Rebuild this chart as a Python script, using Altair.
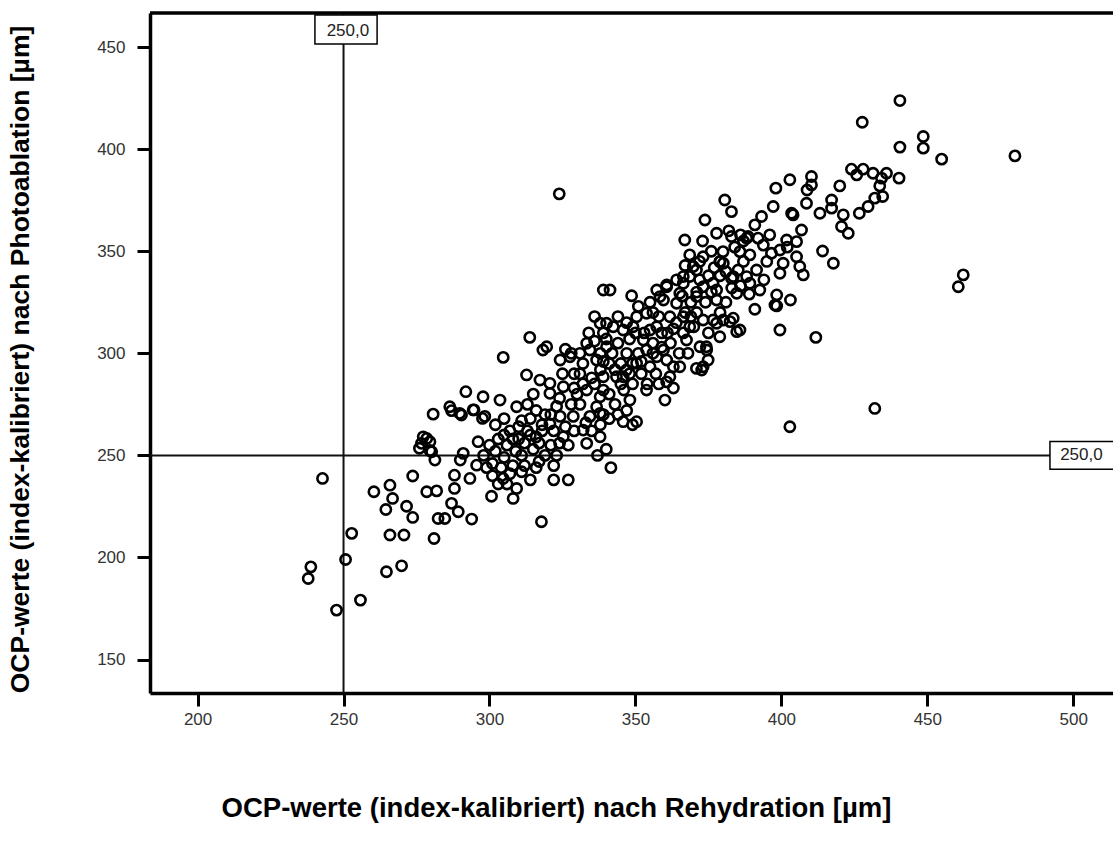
import altair as alt
import pandas as pd

# OCP values after rehydration (x) and after photoablation (y), grouped by x band
x_a = [237.9, 238.8, 242.8, 247.6, 250.7, 252.8, 255.8]
y_a = [189.7, 195.4, 238.7, 174.2, 199.0, 211.8, 179.1]

x_b = [260.4, 264.7, 265.9, 265.9, 266.8, 264.5, 269.9, 270.7, 271.6, 273.7, 273.7, 278.5, 276.7, 277.3, 279.6, 278.5, 279.6, 280.2, 276.0]
y_b = [232.2, 193.0, 211.0, 235.4, 228.9, 223.5, 195.9, 211.0, 225.1, 219.6, 239.9, 232.2, 255.9, 259.1, 256.7, 258.3, 252.4, 251.8, 253.5]

x_c = [281.0, 281.9, 282.4, 284.7, 287.0, 289.3, 288.0, 288.0, 290.0, 281.3, 280.7, 287.0, 286.4, 289.8]
y_c = [209.3, 232.6, 219.1, 219.1, 226.5, 222.4, 240.3, 233.8, 247.7, 247.7, 270.2, 271.9, 273.8, 270.6]

x_d = [291.0, 293.9, 293.3, 295.6, 296.1, 291.9, 297.8, 294.4, 298.4, 290.4, 294.7, 297.6, 298.0, 299.0]
y_d = [251.0, 218.8, 238.7, 245.2, 256.7, 281.2, 278.7, 272.3, 269.1, 269.8, 272.3, 268.1, 250.0, 244.0]

x_e = [300.7, 304.7, 308.1, 309.3, 303.6, 304.7, 309.3, 301, 302, 303, 305, 306, 307, 308, 302, 305, 307, 309, 301, 304, 306, 308, 310, 300, 303, 305]
y_e = [230.0, 238.7, 228.9, 233.8, 277.1, 298.0, 273.8, 246, 252, 258, 249, 255, 262, 245, 265, 268, 241, 252, 240, 244, 236, 258, 264, 255, 236, 260]

x_f = [313.8, 312.7, 317.3, 317.8, 318.3, 319.6, 311, 312, 313, 314, 315, 316, 317, 318, 319, 311, 313, 315, 317, 319, 312, 314, 316, 318, 311, 310, 314, 316]
y_f = [307.8, 289.4, 286.9, 217.5, 301.6, 303.2, 250, 256, 262, 268, 253, 259, 247, 265, 270, 242, 275, 280, 256, 250, 245, 260, 272, 262, 267, 258, 238, 244]

x_g = [320.7, 325.3, 324.2, 327.6, 320.7, 324.2, 328.7, 320.7, 325.3, 323.9, 322, 327, 321, 322, 323, 324, 326, 327, 328, 329, 321, 323, 325, 326, 328, 322, 329, 324, 329]
y_g = [285.3, 283.6, 296.7, 298.3, 280.4, 269.1, 269.1, 265.4, 259.1, 378.1, 238, 238, 255, 262, 274, 278, 264, 255, 275, 290, 270, 250, 290, 302, 300, 245, 262, 256, 283]

x_h = [333.3, 334.4, 336.7, 339.0, 333.3, 334.4, 336.7, 337.9, 337.9, 332.1, 333.3, 337.9, 339.0, 337.9, 339.0, 331, 332, 335, 336, 338, 331, 333, 335, 338, 339, 330, 334, 336, 338, 331, 337, 339, 332, 336, 339]
y_h = [304.9, 301.6, 296.7, 310.0, 282.0, 269.1, 273.8, 278.7, 270.6, 262.4, 255.9, 259.1, 331.0, 314.7, 288.5, 290, 295, 288, 285, 292, 275, 266, 262, 265, 282, 280, 310, 318, 300, 300, 250, 270, 285, 306, 296]

x_i = [340.1, 340.1, 341.3, 348.7, 342.4, 345.8, 349.2, 343.5, 345.8, 346.9, 348.1, 345.8, 341.6, 340, 341, 342, 344, 345, 347, 348, 349, 341, 343, 344, 346, 347, 349, 344, 340, 343, 345, 348, 341, 349, 347]
y_i = [303.2, 314.7, 331.0, 328.2, 313.0, 311.4, 313.0, 288.5, 288.5, 291.8, 277.1, 266.5, 244.0, 253, 295, 300, 305, 295, 300, 307, 285, 280, 275, 270, 282, 272, 295, 318, 307, 292, 285, 290, 268, 265, 315]

x_j = [350.4, 353.8, 355.0, 352.7, 357.3, 353.8, 350.4, 355.0, 357.3, 353.8, 350.4, 357.3, 359.6, 358.4, 351, 352, 354, 356, 358, 359, 351, 353, 355, 357, 359, 352, 356, 358, 350, 356]
y_j = [317.9, 319.6, 311.4, 306.5, 313.0, 301.6, 295.1, 293.4, 298.3, 282.0, 266.5, 331.0, 326.1, 327.8, 300, 290, 285, 305, 318, 303, 323, 310, 325, 290, 310, 296, 300, 285, 310, 320]

x_k = [360.1, 360.7, 359.6, 363.0, 365.2, 361.8, 360.7, 360.7, 364.1, 365.2, 366.4, 368.6, 366.4, 368.6, 366.4, 361.8, 367.5, 366.9, 364.1, 360.7, 369.8, 366.4, 368.6, 362, 363, 365, 367, 369, 361, 364, 366, 368, 369, 363, 367]
y_k = [277.1, 296.7, 301.6, 293.4, 293.4, 288.5, 286.0, 332.6, 324.5, 329.4, 334.3, 337.6, 310.0, 313.0, 317.9, 317.9, 306.5, 355.5, 336.0, 333.5, 342.5, 337.6, 348.2, 305, 312, 300, 320, 325, 310, 315, 328, 300, 318, 283, 343]

x_l = [370.9, 373.2, 374.3, 373.2, 377.8, 378.9, 370.9, 373.2, 376.6, 377.8, 373.2, 370.9, 372.1, 374.4, 374.9, 372.7, 373.8, 377.8, 371, 375, 377, 379, 372, 376, 378.9, 377.8, 376.6, 379, 371, 375, 370, 374, 372, 376, 379, 373]
y_l = [292.6, 293.4, 303.2, 316.3, 314.7, 308.1, 340.8, 332.6, 334.3, 326.1, 347.3, 327.8, 303.2, 301.6, 296.7, 291.8, 365.3, 358.8, 330, 338, 342, 345, 336, 330, 344.9, 331.0, 316.3, 320, 320, 310, 313, 325, 345, 350, 338, 355]

x_m = [380.1, 383.5, 385.8, 384.7, 380.1, 383.5, 382.9, 380.6, 382.9, 388.6, 388.1, 385.8, 380.0, 389.2, 388.1, 389.2, 385.2, 382.9, 384.7, 382.4, 381, 383, 386, 387, 384, 381, 386, 389, 382, 387]
y_m = [316.3, 317.2, 311.4, 329.4, 344.1, 337.6, 357.2, 375.1, 369.4, 357.2, 356.4, 349.8, 349.8, 348.2, 337.6, 334.3, 340.8, 336.8, 310.6, 315.5, 325, 332, 333, 345, 352, 340, 358, 329, 360, 355]

x_n = [390.9, 390.9, 393.2, 397.2, 398.1, 392.0, 393.8, 391.5, 392.6, 398.4, 397.8, 398.4, 399.5, 396.6, 399.5, 399.5, 395, 396, 394]
y_n = [321.6, 362.9, 367.0, 371.9, 380.9, 356.4, 353.0, 340.8, 331.0, 328.6, 323.7, 323.2, 339.2, 349.0, 350.6, 311.4, 345, 358, 336]

x_o = [400.6, 401.8, 402.0, 403.5, 402.9, 404.0, 405.2, 405.2, 406.3, 406.9, 407.5, 403.1, 408.6, 408.8, 402.9, 410.3, 410.3]
y_o = [344.1, 355.5, 352.0, 368.6, 385.0, 367.8, 354.7, 347.3, 342.5, 360.4, 338.4, 326.1, 373.5, 380.0, 264.0, 386.6, 382.5]

x_p = [411.8, 413.2, 414.1, 417.2, 417.2, 417.8, 420.0, 421.2, 420.6, 422.9, 424.0, 425.8, 428.0, 431.4, 433.7, 434.7, 432.0, 429.7, 426.7, 427.7, 432.0, 436.0, 434.3]
y_p = [307.8, 368.6, 350.1, 375.1, 371.1, 344.1, 382.0, 367.8, 362.1, 358.8, 390.2, 387.4, 390.2, 388.2, 382.0, 376.8, 376.0, 371.9, 368.6, 413.2, 273.0, 388.2, 385.8]

x_q = [440.6, 440.6, 440.3, 448.6, 448.6, 454.9, 480.0, 462.3, 460.6]
y_q = [423.8, 401.0, 385.8, 406.2, 400.5, 395.1, 396.7, 338.4, 332.6]

x_ticks = [200, 250, 300, 350, 400, 450, 500]
y_ticks = [150, 200, 250, 300, 350, 400, 450]
ref_value = 250
ref_label = "250,0"

xs = x_a + x_b + x_c + x_d + x_e + x_f + x_g + x_h + x_i + x_j + x_k + x_l + x_m + x_n + x_o + x_p + x_q
ys = y_a + y_b + y_c + y_d + y_e + y_f + y_g + y_h + y_i + y_j + y_k + y_l + y_m + y_n + y_o + y_p + y_q
pts = pd.DataFrame({"x": xs, "y": ys})

W, H = 963, 680
FONT = "Liberation Sans"
xdom = [183.7, 513.6]
ydom = [133.6, 466.7]

xscale = alt.Scale(domain=xdom, nice=False, zero=False)
yscale = alt.Scale(domain=ydom, nice=False, zero=False)

xaxis = alt.Axis(values=x_ticks, grid=False, domainColor="black", domainWidth=3.5,
                 tickColor="black", tickWidth=3, tickSize=13, labelFont=FONT, labelFontSize=17,
                 labelColor="#333333", labelPadding=5,
                 title="OCP-werte (index-kalibriert) nach Rehydration [µm]",
                 titleFont=FONT, titleFontSize=27.5, titleFontWeight="bold", titleColor="black",
                 titleX=406, titleY=115, titleAlign="center", titleBaseline="middle")
yaxis = alt.Axis(values=y_ticks, grid=False, domainColor="black", domainWidth=3.5,
                 tickColor="black", tickWidth=3, tickSize=13, labelFont=FONT, labelFontSize=17,
                 labelColor="#333333", labelPadding=12,
                 title="OCP-werte (index-kalibriert) nach Photoablation [µm]",
                 titleFont=FONT, titleFontSize=26.5, titleFontWeight="bold", titleColor="black",
                 titleX=-130, titleY=346, titleAlign="center", titleBaseline="middle", titleAngle=270)

points = alt.Chart(pts).mark_point(shape="circle", filled=False, stroke="black",
                                    strokeWidth=2.6, size=105, opacity=1).encode(
    x=alt.X("x:Q", scale=xscale, axis=xaxis),
    y=alt.Y("y:Q", scale=yscale, axis=yaxis),
)

ref = pd.DataFrame({"v": [ref_value]})
vline = alt.Chart(ref).mark_rule(color="#111111", strokeWidth=2).encode(
    x=alt.X("v:Q", scale=xscale))
hline = alt.Chart(ref).mark_rule(color="#111111", strokeWidth=2).encode(
    y=alt.Y("v:Q", scale=yscale))

top_border = alt.Chart(ref).mark_rule(color="black", strokeWidth=3.5).encode(
    x=alt.value(0), x2=alt.value(W), y=alt.value(0))

# label box on the vertical reference line (top)
vbox = alt.Chart(ref).mark_rect(fill="white", stroke="black", strokeWidth=1.5).encode(
    x=alt.datum(240.2, scale=xscale), x2=alt.datum(261.5),
    y=alt.value(2), y2=alt.value(31))
vtext = alt.Chart(ref).mark_text(font=FONT, fontSize=17, color="#222222",
                                  align="center", baseline="middle").encode(
    x=alt.datum(251.5, scale=xscale), y=alt.value(18), text=alt.value(ref_label))

# label box on the horizontal reference line (right, cut by the frame)
hbox = alt.Chart(ref).mark_rect(fill="white", stroke="black", strokeWidth=1.5).encode(
    x=alt.datum(492.0, scale=xscale), x2=alt.datum(525.0),
    y=alt.datum(256.8, scale=yscale), y2=alt.datum(243.2))
htext = alt.Chart(ref).mark_text(font=FONT, fontSize=17, color="#222222",
                                  align="left", baseline="middle").encode(
    x=alt.datum(495.5, scale=xscale), y=alt.datum(250, scale=yscale), text=alt.value(ref_label))

chart = alt.layer(vline, hline, points, top_border, vbox, vtext, hbox, htext).properties(
    width=W, height=H,
    autosize=alt.AutoSizeParams(type="none"),
    padding={"left": 150, "top": 13, "right": 0, "bottom": 157},
    background="white",
).configure_view(stroke=None)

chart.save("out.html", embed_options={"renderer": "svg", "actions": False})
